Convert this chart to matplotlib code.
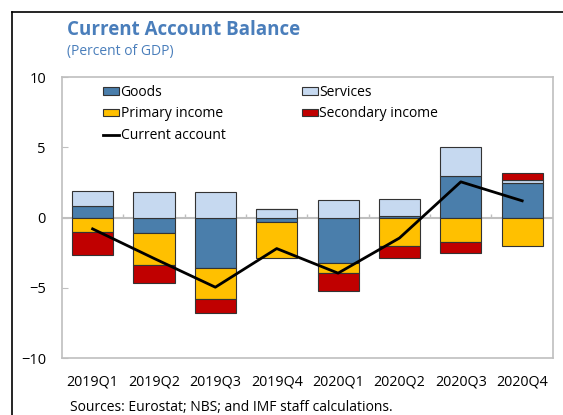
import numpy as np
import matplotlib.pyplot as plt
from matplotlib.lines import Line2D
from matplotlib.patches import Patch

plt.rcParams['font.family'] = ['Open Sans', 'DejaVu Sans']

quarters = ['2019Q1', '2019Q2', '2019Q3', '2019Q4', '2020Q1', '2020Q2', '2020Q3', '2020Q4']
goods = [0.8, -1.1, -3.55, -0.3, -3.25, 0.1, 3.0, 2.5]
services = [1.1, 1.8, 1.85, 0.65, 1.25, 1.25, 2.05, 0.15]
primary = [-1.0, -2.3, -2.25, -2.55, -0.7, -2.05, -1.7, -2.0]
secondary = [-1.65, -1.25, -1.0, 0.0, -1.3, -0.8, -0.85, 0.5]
current = [-0.8, -2.9, -4.95, -2.2, -3.95, -1.45, 2.55, 1.2]

names = ['Goods', 'Services', 'Primary income', 'Secondary income']
colors = ['#4A7EAB', '#C6D9F0', '#FFC000', '#C00000']
blue = '#4A7EBB'

fig = plt.figure(figsize=(5.63, 4.15), dpi=100)
ax = fig.add_axes([0.110, 0.137, 0.872, 0.677])

x = np.arange(len(quarters))
pos_base = np.zeros(len(x))
neg_base = np.zeros(len(x))
for vals, c in zip([goods, services, primary, secondary], colors):
    v = np.array(vals)
    base = np.where(v >= 0, pos_base, neg_base)
    ax.bar(x, v, 0.67, bottom=base, color=c, edgecolor='#333333', linewidth=0.8, zorder=2)
    pos_base = pos_base + np.where(v > 0, v, 0)
    neg_base = neg_base + np.where(v < 0, v, 0)

ax.axhline(0, color='#BFBFBF', lw=1.5, zorder=1)
# small category ticks sitting on the zero line
ax.vlines(x[1:] - 0.5, 0, 0.28, color='#BFBFBF', lw=1, zorder=1)
ax.plot(x, current, color='black', lw=2, zorder=3)

ax.set_xlim(-0.5, 7.5)
ax.set_ylim(-10, 10)
ax.set_yticks([-10, -5, 0, 5, 10])
ax.set_xticks(x)
ax.set_xticklabels(quarters)
for s in ax.spines.values():
    s.set_color('#BFBFBF')
    s.set_linewidth(1.2)
ax.tick_params(axis='y', direction='in', length=4, color='#BFBFBF', pad=11.5, labelsize=10.5)
ax.tick_params(axis='x', length=0, pad=12, labelsize=10.3)

handles = [Patch(facecolor=c, edgecolor='#333333', linewidth=0.8) for c in colors]
handles.append(Line2D([0], [0], color='black', lw=2))
labels = names + ['Current account']
order = [0, 2, 4, 1, 3]
ax.legend([handles[i] for i in order], [labels[i] for i in order], ncol=2, loc='upper left',
          bbox_to_anchor=(0.0835, 0.973), frameon=False, fontsize=10,
          handlelength=1.15, handleheight=0.45, handletextpad=0.12, borderpad=0,
          labelspacing=0.48, columnspacing=5.5, borderaxespad=0)

fig.text(67 / 563, 1 - 30 / 415, 'Current Account Balance', color=blue,
         fontsize=13.5, fontweight='bold', va='center')
fig.text(67 / 563, 1 - 52 / 415, '(Percent of GDP)', color=blue, fontsize=10, va='center')
fig.text(70 / 563, 1 - 407 / 415, 'Sources: Eurostat; NBS; and IMF staff calculations.',
         fontsize=10, va='center')

fig.add_artist(Line2D([12 / 563, 12 / 563], [0, 1 - 12 / 415], color='black', lw=1.2))
fig.add_artist(Line2D([12 / 563, 1], [1 - 12 / 415, 1 - 12 / 415], color='black', lw=1.2))

fig.savefig('out.png', dpi=100)
